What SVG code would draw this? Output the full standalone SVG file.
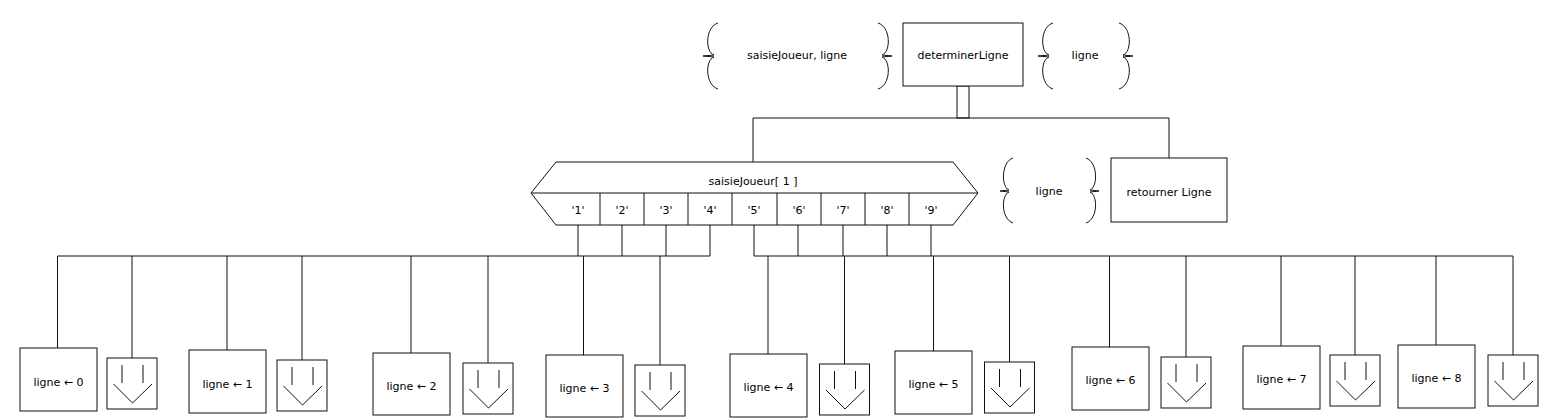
<svg xmlns="http://www.w3.org/2000/svg" width="1552" height="418" viewBox="0 0 1552 418">
<style>
  .box { fill: #fff; stroke: #111; stroke-width: 1; }
  .ln { fill: none; stroke: #111; stroke-width: 1; }
  text { font-family: "DejaVu Sans", Verdana, sans-serif; font-size: 11px; fill: #000; text-anchor: middle; }
</style>
<defs>
  <g id="arrowIcon">
    <rect class="box" x="0" y="0" width="50" height="51"/>
    <line class="ln" x1="15" y1="7" x2="15" y2="25"/>
    <line class="ln" x1="36" y1="7" x2="36" y2="25"/>
    <polyline class="ln" points="6.5,26 25.5,45 45,26"/>
  </g>
</defs>
<rect width="1552" height="418" fill="#fff"/>

<g id="connectors">
  <rect class="ln" x="957" y="86" width="12" height="32"/>
  <polyline class="ln" points="753,162 753,118 1169,118 1169,158"/>
  <line class="ln" x1="578" y1="225" x2="578" y2="256"/>
  <line class="ln" x1="622" y1="225" x2="622" y2="256"/>
  <line class="ln" x1="666" y1="225" x2="666" y2="256"/>
  <line class="ln" x1="710" y1="225" x2="710" y2="256"/>
  <line class="ln" x1="754" y1="225" x2="754" y2="256"/>
  <line class="ln" x1="798" y1="225" x2="798" y2="256"/>
  <line class="ln" x1="843" y1="225" x2="843" y2="256"/>
  <line class="ln" x1="887" y1="225" x2="887" y2="256"/>
  <line class="ln" x1="931" y1="225" x2="931" y2="256"/>
  <line class="ln" x1="57.5" y1="256" x2="710" y2="256"/>
  <line class="ln" x1="754" y1="256" x2="1513" y2="256"/>
  <line class="ln" x1="57.5" y1="256" x2="57.5" y2="348"/>
  <line class="ln" x1="132" y1="256" x2="132" y2="358"/>
  <line class="ln" x1="227" y1="256" x2="227" y2="350"/>
  <line class="ln" x1="302" y1="256" x2="302" y2="360"/>
  <line class="ln" x1="411" y1="256" x2="411" y2="353"/>
  <line class="ln" x1="488" y1="256" x2="488" y2="363"/>
  <line class="ln" x1="583.5" y1="256" x2="583.5" y2="355"/>
  <line class="ln" x1="660" y1="256" x2="660" y2="365"/>
  <line class="ln" x1="768" y1="256" x2="768" y2="354"/>
  <line class="ln" x1="844.5" y1="256" x2="844.5" y2="364"/>
  <line class="ln" x1="933.5" y1="256" x2="933.5" y2="351"/>
  <line class="ln" x1="1009.5" y1="256" x2="1009.5" y2="362"/>
  <line class="ln" x1="1109.5" y1="256" x2="1109.5" y2="347"/>
  <line class="ln" x1="1186" y1="256" x2="1186" y2="357"/>
  <line class="ln" x1="1281" y1="256" x2="1281" y2="346"/>
  <line class="ln" x1="1355" y1="256" x2="1355" y2="355"/>
  <line class="ln" x1="1436" y1="256" x2="1436" y2="345"/>
  <line class="ln" x1="1513" y1="256" x2="1513" y2="355"/>
</g>

<g id="params-in">
  <path class="ln" d="M718,23 C705,27 705,52 714,55 L703,56 L714,57 C705,60 705,85 718,89"/>
  <path class="ln" d="M878,23 C891,27 891,52 882,55 L892,56 L882,57 C891,60 891,85 878,89"/>
  <text x="797" y="59">saisieJoueur, ligne</text>
</g>

<g id="determinerLigne">
  <rect class="box" x="903" y="23" width="120" height="63"/>
  <text x="963" y="59">determinerLigne</text>
</g>

<g id="params-out">
  <path class="ln" d="M1053,23 C1040,27 1040,52 1049,55 L1038,56 L1049,57 C1040,60 1040,85 1053,89"/>
  <path class="ln" d="M1119,23 C1132,27 1132,52 1123,55 L1133,56 L1123,57 C1132,60 1132,85 1119,89"/>
  <text x="1085" y="59">ligne</text>
</g>

<g id="selection">
  <polygon class="box" points="531,193 556,162 953,162 978,193 953,225 556,225"/>
  <line class="ln" x1="531" y1="193" x2="978" y2="193"/>
  <line class="ln" x1="600" y1="193" x2="600" y2="225"/>
  <line class="ln" x1="644" y1="193" x2="644" y2="225"/>
  <line class="ln" x1="688" y1="193" x2="688" y2="225"/>
  <line class="ln" x1="732" y1="193" x2="732" y2="225"/>
  <line class="ln" x1="777" y1="193" x2="777" y2="225"/>
  <line class="ln" x1="821" y1="193" x2="821" y2="225"/>
  <line class="ln" x1="865" y1="193" x2="865" y2="225"/>
  <line class="ln" x1="909" y1="193" x2="909" y2="225"/>
  <text x="753" y="185">saisieJoueur[ 1 ]</text>
  <text x="578" y="214">'1'</text>
  <text x="622" y="214">'2'</text>
  <text x="666" y="214">'3'</text>
  <text x="710" y="214">'4'</text>
  <text x="754" y="214">'5'</text>
  <text x="799" y="214">'6'</text>
  <text x="843" y="214">'7'</text>
  <text x="887" y="214">'8'</text>
  <text x="931" y="214">'9'</text>
</g>

<g id="params-ret">
  <path class="ln" d="M1013,158 C1001,162 1001,187 1009,190 L1000,191 L1009,192 C1001,195 1001,219 1013,223"/>
  <path class="ln" d="M1086,158 C1098,162 1098,187 1090,190 L1099,191 L1090,192 C1098,195 1098,219 1086,223"/>
  <text x="1049" y="195">ligne</text>
</g>

<g id="retournerLigne">
  <rect class="box" x="1111" y="158" width="116" height="64"/>
  <text x="1169" y="196">retourner Ligne</text>
</g>

<g id="case0">
  <rect class="box" x="20" y="348" width="77" height="63"/>
  <text x="58.5" y="386">ligne ← 0</text>
  <use href="#arrowIcon" x="107" y="358"/>
</g>
<g id="case1">
  <rect class="box" x="189" y="350" width="77" height="63"/>
  <text x="227.5" y="388">ligne ← 1</text>
  <use href="#arrowIcon" x="277" y="360"/>
</g>
<g id="case2">
  <rect class="box" x="373" y="353" width="77" height="62"/>
  <text x="411.5" y="390">ligne ← 2</text>
  <use href="#arrowIcon" x="463" y="363"/>
</g>
<g id="case3">
  <rect class="box" x="546" y="355" width="77" height="62"/>
  <text x="584.5" y="392">ligne ← 3</text>
  <use href="#arrowIcon" x="635" y="365"/>
</g>
<g id="case4">
  <rect class="box" x="730" y="354" width="77" height="63"/>
  <text x="768.5" y="391">ligne ← 4</text>
  <use href="#arrowIcon" x="819.5" y="364"/>
</g>
<g id="case5">
  <rect class="box" x="895" y="351" width="77" height="63"/>
  <text x="933.5" y="388">ligne ← 5</text>
  <use href="#arrowIcon" x="984.5" y="362"/>
</g>
<g id="case6">
  <rect class="box" x="1072" y="347" width="77" height="63"/>
  <text x="1110.5" y="384">ligne ← 6</text>
  <use href="#arrowIcon" x="1161" y="357"/>
</g>
<g id="case7">
  <rect class="box" x="1243" y="346" width="77" height="63"/>
  <text x="1281.5" y="383">ligne ← 7</text>
  <use href="#arrowIcon" x="1330" y="355"/>
</g>
<g id="case8">
  <rect class="box" x="1398" y="345" width="77" height="63"/>
  <text x="1436.5" y="382">ligne ← 8</text>
  <use href="#arrowIcon" x="1488" y="355"/>
</g>
</svg>
